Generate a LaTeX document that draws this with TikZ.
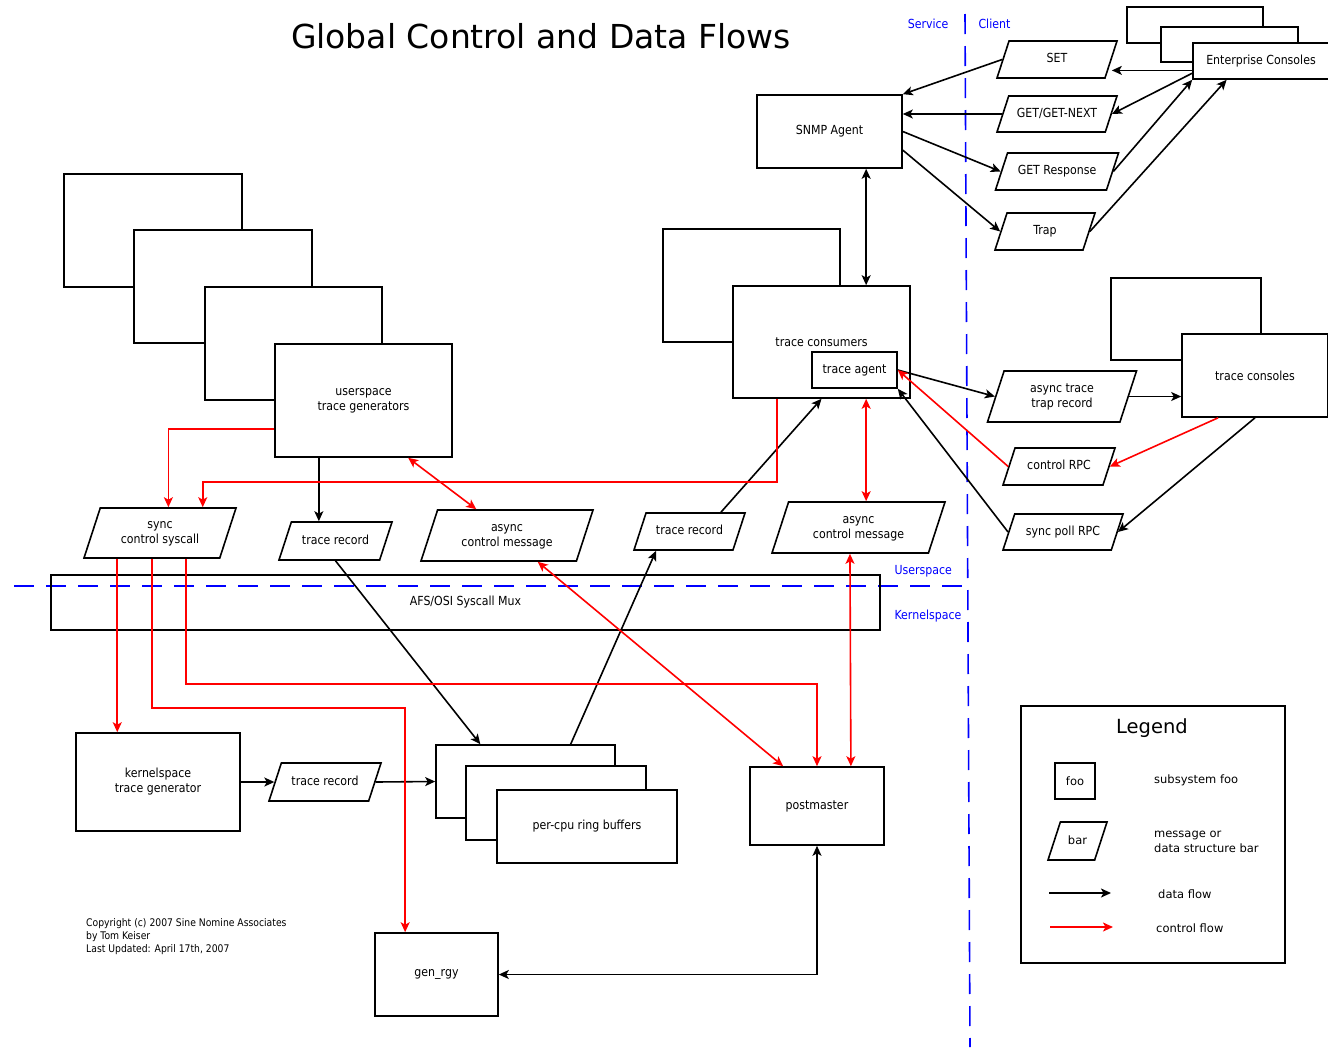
\documentclass[tikz,border=0pt]{standalone}
\usepackage{fontspec}
\setmainfont{DejaVu Sans}
\newfontfamily\condfont[FakeStretch=0.88]{DejaVu Sans}
\usetikzlibrary{arrows.meta,calc,shapes.geometric}

\newcommand{\labelfont}{\condfont\fontsize{12.5}{15}\selectfont}
\newcommand{\legfont}{\fontsize{11.5}{15}\selectfont}
\newcommand{\twolines}[2]{\begin{tabular}{@{}c@{}}#1\\#2\end{tabular}}

\tikzset{
  box/.style={draw, line width=1.6pt, fill=white, font=\labelfont, align=center},
  msg/.style 2 args={draw, line width=1.6pt, fill=white, trapezium, trapezium left angle=72,
    trapezium right angle=108, trapezium stretches body, font=\labelfont,
    text height=9.5pt, text depth=3pt, minimum width=#1pt, inner ysep=(#2-12.5)/2*1pt},
  dataflow/.style={line width=1.6pt, ->},
  ctrlflow/.style={line width=1.6pt, red, ->},
  zone/.style={blue, line width=1.6pt, dash pattern=on 20pt off 12pt},
  zonelabel/.style={blue, font=\labelfont},
  legtext/.style={anchor=west, font=\legfont, align=left, inner sep=0pt},
}

\begin{document}
\begin{tikzpicture}[x=1pt, y=-1pt, >={Stealth[length=10pt,width=9pt,inset=2.5pt]}]
\useasboundingbox (0,0) rectangle (1328,1047);

\node[font=\fontsize{33}{38}\selectfont] (title) at (541,36) {Global Control and Data Flows};

% service / client and user / kernel borders
\draw[zone] (965,14) -- (970,1047);
\draw[zone] (14,586) -- (968,586);
\node[zonelabel, anchor=east] (service) at (952,24) {Service};
\node[zonelabel, anchor=west] (client) at (975,24) {Client};
\node[zonelabel, anchor=west] (userspace) at (891,571) {Userspace};
\node[zonelabel, anchor=west] (kernelspace) at (891,616) {Kernelspace};

% enterprise consoles
\node[box, minimum width=136pt, minimum height=36pt] (ec1) at (1195,25) {};
\node[box, minimum width=137pt, minimum height=35pt] (ec2) at (1229.5,44.5) {};
\node[box, minimum width=136pt, minimum height=36pt] (ec) at (1261,61) {Enterprise Consoles};

% snmp agent and its messages
\node[box, minimum width=145pt, minimum height=73pt] (snmp) at (829.5,131.5) {SNMP Agent};
\node[msg={120}{37}] (set) at (1057,59.5) {SET};
\node[msg={120}{36}] (getnext) at (1057,114) {GET/GET-NEXT};
\node[msg={123}{37}] (getresp) at (1057,171.5) {GET Response};
\node[msg={100}{37}] (trap) at (1045,231.5) {Trap};

% trace consumers
\node[box, minimum width=177pt, minimum height=113pt] (tc1) at (751.5,285.5) {};
\node[box, minimum width=177pt, minimum height=112pt] (tc) at (821.5,342) {trace consumers};
\node[box, minimum width=85pt, minimum height=36pt] (ta) at (854.5,370) {trace agent};

% trace consoles
\node[box, minimum width=150pt, minimum height=82pt] (tcon1) at (1186,319) {};
\node[box, minimum width=146pt, minimum height=83pt] (tcon) at (1255,375.5) {trace consoles};
\node[msg={149}{51}] (attr) at (1062,396.5) {\twolines{async trace}{trap record}};
\node[msg={112}{37}] (crpc) at (1059,466.5) {control RPC};
\node[msg={120}{36}] (spoll) at (1063,532) {sync poll RPC};
\node[msg={173}{51}] (acmr) at (858.5,527.5) {\twolines{async}{control message}};
\node[msg={111}{37}] (trm) at (689.5,531.5) {trace record};

% userspace trace generators
\node[box, minimum width=178pt, minimum height=113pt] (ug1) at (153,230.5) {};
\node[box, minimum width=178pt, minimum height=113pt] (ug2) at (223,286.5) {};
\node[box, minimum width=177pt, minimum height=113pt] (ug3) at (293.5,343.5) {};
\node[box, minimum width=177pt, minimum height=113pt] (ug) at (363.5,400.5) {userspace\\trace generators};
\node[msg={152}{50}] (scs) at (160,533) {\twolines{sync}{control syscall}};
\node[msg={113}{38}] (trl) at (335.5,541) {trace record};
\node[msg={172}{51}] (acml) at (507,535.5) {\twolines{async}{control message}};

\node[box, fill=none, minimum width=829pt, minimum height=55pt] (mux) at (465.5,602.5) {AFS/OSI Syscall Mux};

% kernelspace
\node[box, minimum width=164pt, minimum height=98pt] (ktg) at (158,782) {kernelspace\\trace generator};
\node[msg={112}{38}] (trb) at (325,782) {trace record};
\node[box, minimum width=179pt, minimum height=73pt] (rb1) at (525.5,781.5) {};
\node[box, minimum width=180pt, minimum height=74pt] (rb2) at (556,803) {};
\node[box, minimum width=180pt, minimum height=73pt] (rb) at (587,826.5) {per-cpu ring buffers};
\node[box, minimum width=134pt, minimum height=78pt] (pm) at (817,806) {postmaster};
\node[box, minimum width=123pt, minimum height=83pt] (rgy) at (436.5,974.5) {gen\_rgy};

\node[anchor=north west, align=left, inner sep=0pt, font=\condfont\fontsize{10.5}{13}\selectfont] (credit) at (86,918)
  {Copyright (c) 2007 Sine Nomine Associates\\by Tom Keiser\\Last Updated: April 17th, 2007};

% helper points
\coordinate (ecset) at ($(ec.west)!0.5!(ec.south west)$);
\coordinate (ecget) at ($(ec.west)!0.65!(ec.south west)$);
\coordinate (ectrap) at ($(ec.south west)!0.25!(ec.south east)$);
\coordinate (snmptrap) at ($(snmp.east)!0.5!(snmp.south east)$);
\coordinate (tcn) at ($(tc.north)!0.5!(tc.north east)$);
\coordinate (ugout) at ($(ug.south west)!0.25!(ug.south east)$);
\coordinate (scsa) at ($(scs.bottom left corner)!0.25!(scs.bottom right corner)$);
\coordinate (scsb) at ($(scs.bottom left corner)!0.5!(scs.bottom right corner)+(0.5,0)$);
\coordinate (scsc) at ($(scs.bottom left corner)!0.75!(scs.bottom right corner)$);
\coordinate (rgyin) at ($(rgy.north west)!0.25!(rgy.north east)+(-0.2,0)$);

% data flow
\draw[dataflow] (set.west) -- (snmp.north east);
\draw[dataflow] (getnext.west) -- (snmp.east |- getnext.west);
\draw[dataflow] (snmp.east) -- (getresp.west);
\draw[dataflow] (snmptrap) -- (trap.west);
\draw[dataflow] (ecset) -- (set.east |- ecset);
\draw[dataflow] (ecget) -- (getnext.east);
\draw[dataflow] (getresp.east) -- (ec.south west);
\draw[dataflow] (trap.east) -- (ectrap);
\draw[dataflow, <->] (snmp.south -| tcn) -- (tcn);
\draw[dataflow] (ta.east) -- (attr.west);
\draw[dataflow] (attr.east) -- (tcon.west |- attr.east);
\draw[dataflow] (tcon.south) -- (spoll.east);
\draw[dataflow] (spoll.west) -- (ta.south east);
\draw[dataflow] ($(trm.top left corner)!0.75!(trm.top right corner)$) -- (tc.south);
\draw[dataflow] ($(rb1.north)!0.5!(rb1.north east)$) -- ($(trm.bottom left corner)!0.23!(trm.bottom right corner)$);
\draw[dataflow] (ugout) -- (ugout |- trl.north);
\draw[dataflow] (trl.south) -- ($(rb1.north west)!0.25!(rb1.north east)$);
\draw[dataflow] (ktg.east) -- (trb.west);
\draw[dataflow] (trb.east) -- (rb1.west);
\draw[dataflow, <->] (pm.south) |- (rgy.east);

% control flow
\draw[ctrlflow] ($(ug.west)!0.5!(ug.south west)$) -| ($(scs.top left corner)!0.5!(scs.top right corner)$);
\draw[ctrlflow] ($(tc.south west)!0.25!(tc.south east)$) -- ++(0,83) -| ($(scs.top left corner)!0.75!(scs.top right corner)$);
\draw[ctrlflow, <->] ($(ug.south west)!0.75!(ug.south east)$) -- ($(acml.top left corner)!0.25!(acml.top right corner)$);
\draw[ctrlflow, <->] (tcn |- tc.south) -- (tcn |- acmr.north);
\draw[ctrlflow] (crpc.west) -- (ta.east);
\draw[ctrlflow] ($(tcon.south west)!0.25!(tcon.south east)$) -- (crpc.east);
\draw[ctrlflow] (scsa) -- (scsa |- ktg.north);
\draw[ctrlflow] (scsb) -- ++(0,149) -| (rgyin);
\draw[ctrlflow] (scsc) -- ++(0,125) -| (pm.north);
\draw[ctrlflow, <->] ($(acml.bottom left corner)!0.75!(acml.bottom right corner)$) -- ($(pm.north west)!0.25!(pm.north east)$);
\draw[ctrlflow, <->] ($(acmr.bottom left corner)!0.5!(acmr.bottom right corner)$) -- ($(pm.north west)!0.75!(pm.north east)$);

% legend
\node[box, fill=none, minimum width=264pt, minimum height=257pt] (legend) at (1153,834.5) {};
\node[font=\fontsize{19.5}{22}\selectfont] (legtitle) at (1152,728) {Legend};
\node[box, font=\legfont, minimum width=40pt, minimum height=36pt] (foo) at (1075,781) {foo};
\node[legtext] (footext) at (1154,780) {subsystem foo};
\node[msg={59}{38}, font=\legfont] (bar) at (1077.5,841) {bar};
\node[legtext] (bartext) at (1154,842) {message or\\data structure bar};
\coordinate (dfa) at (1049,893);
\coordinate (dfb) at (1111,893);
\draw[dataflow] (dfa) -- (dfb);
\node[legtext] (dftext) at (1158,894) {data flow};
\coordinate (cfa) at (1050,927);
\coordinate (cfb) at (1113,927);
\draw[ctrlflow] (cfa) -- (cfb);
\node[legtext] (cftext) at (1156,928) {control flow};

\end{tikzpicture}
\end{document}
